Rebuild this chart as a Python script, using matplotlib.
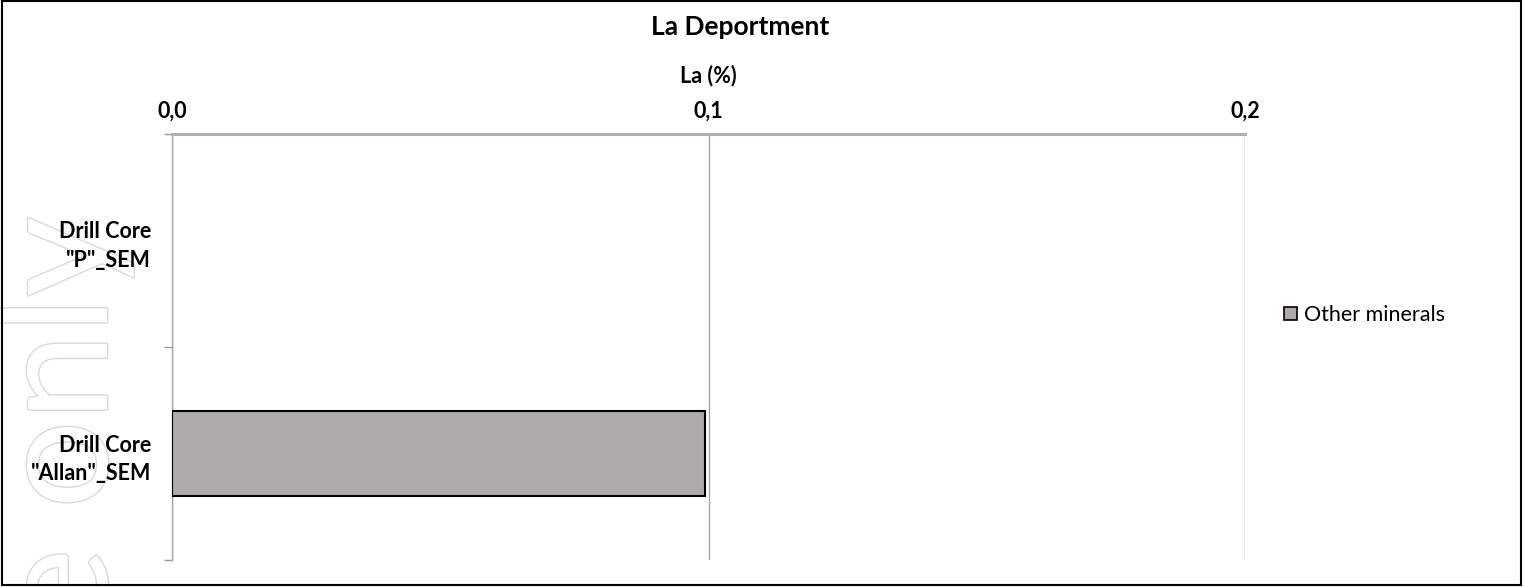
import matplotlib.pyplot as plt
import matplotlib.patheffects as pe
from matplotlib.patches import Patch, Rectangle

# datos
categorias = ['Drill Core\n"Allan"_SEM', 'Drill Core\n"P"_SEM']
otros_minerales = [0.0993, 0.0]
serie = "Other minerals"
ticks_x = [0.0, 0.1, 0.2]
etiquetas_x = ["0,0", "0,1", "0,2"]

plt.rcParams['font.family'] = ['Lato', 'DejaVu Sans']

fig = plt.figure(figsize=(15.24, 5.87), dpi=100)
ax = fig.add_axes([172/1524, 1 - 560/587, (1245 - 172)/1524, (560 - 134)/587])

# marca de agua (texto contorneado, girado), detrás de todo
fig.text(107/1524, 1 - 217/587, "e only", rotation=90, rotation_mode="anchor",
         fontsize=112, color="white", ha="right", va="baseline",
         path_effects=[pe.withStroke(linewidth=2, foreground="#d9d9d9")], zorder=-5)
ax.patch.set_alpha(0)

y = range(len(categorias))
bordes = ["black" if v > 0 else "none" for v in otros_minerales]
ax.barh(y, otros_minerales, height=0.4, color="#AEAAAA", edgecolor=bordes,
        linewidth=1.5, zorder=3)

ax.set_xlim(0, 0.2)
ax.set_ylim(-0.5, 1.5)
ax.xaxis.tick_top()
ax.xaxis.set_label_position("top")
ax.set_xticks(ticks_x)
ax.set_xticklabels(etiquetas_x, fontweight="bold", fontsize=15.5)
ax.tick_params(axis="x", length=0, pad=9)
ax.set_xlabel("La (%)", fontweight="bold", fontsize=15.5, labelpad=13)

ax.set_yticks(list(y))
ax.set_yticklabels(categorias, fontweight="bold", fontsize=15.5, linespacing=1.45)
ax.tick_params(axis="y", which="major", length=0, pad=15)
ax.set_yticks([-0.5, 0.5, 1.5], minor=True)
ax.tick_params(axis="y", which="minor", length=6, color="#9a9a9a", width=1)

ax.grid(axis="x", color="#a6a6a6", linewidth=1, zorder=0)
for s in ["right", "bottom"]:
    ax.spines[s].set_visible(False)
ax.spines["left"].set_color("#a6a6a6")
ax.spines["left"].set_linewidth(1)
ax.spines["top"].set_color("#b0b0b0")
ax.spines["top"].set_linewidth(2.2)

fig.text(740/1524, 1 - 27/587, "La Deportment", ha="center", va="center",
         fontweight="bold", fontsize=19)

fig.legend(handles=[Patch(facecolor="#AEAAAA", edgecolor="black", linewidth=1.2, label=serie)],
           loc="center left", bbox_to_anchor=(1265/1524, 1 - 315/587), frameon=False,
           fontsize=15.5, handlelength=0.6, handleheight=0.6, handletextpad=0.3)

fig.patches.append(Rectangle((0.001, 0.003), 0.997, 0.995, transform=fig.transFigure,
                             fill=False, edgecolor="black", linewidth=1.5))

fig.savefig("out.png", dpi=100)
